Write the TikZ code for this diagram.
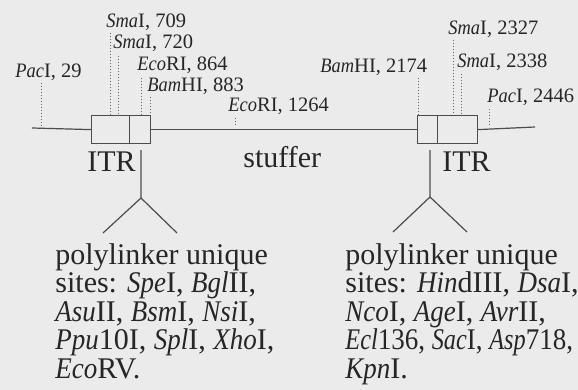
\documentclass[tikz,border=0pt]{standalone}
\usepackage{graphicx}
\usepackage{fontspec}
\setmainfont{Liberation Serif}[ItalicFeatures={FakeStretch=0.9}]
\begin{document}
\begin{tikzpicture}[x=0.5pt,y=-0.5pt,
  seg/.style={draw=black!70,line width=0.6pt},
  tick/.style={draw=black!60,line width=0.5pt,densely dotted},
  lbl/.style={anchor=base west,inner sep=0pt,font=\fontsize{10.25}{12}\selectfont,text=black!85},
  big/.style={anchor=base west,inner sep=0pt,font=\fontsize{15}{15}\selectfont,text=black!85},
  para/.style={anchor=north west,inner sep=0pt,align=left,font=\fontsize{15}{14.25}\selectfont,text=black!85}]
\fill[black!8] (0,0) rectangle (578,390);
\useasboundingbox (0,0) rectangle (578,390);
% backbone
\coordinate (L0) at (32,128);
\coordinate (R0) at (535,127);
\node[seg,minimum width=19pt,minimum height=14pt,inner sep=0pt,anchor=north west] (b1a) at (91,115) {};
\node[seg,minimum width=10.5pt,minimum height=14pt,inner sep=0pt,anchor=north west] (b1b) at (129,115) {};
\node[seg,minimum width=10pt,minimum height=14pt,inner sep=0pt,anchor=north west] (b2a) at (417,115) {};
\node[seg,minimum width=20pt,minimum height=14pt,inner sep=0pt,anchor=north west] (b2b) at (437,115) {};
\draw[seg] (L0) -- (b1a.west);
\draw[seg] (b1b.east) -- (b2a.west);
\draw[seg] (b2b.east) -- (R0);
% labels and ticks
\node[lbl] (pac1) at (15,78) {\textit{Pac}I, 29};
\draw[tick] (41,83) -- (41,130);
\node[lbl] (sma1) at (106,28) {\textit{Sma}I, 709};
\draw[tick] (110,33) -- (110,115);
\node[lbl] (sma2) at (113,49) {\textit{Sma}I, 720};
\draw[tick] (118,56) -- (118,115);
\node[lbl] (eco1) at (137,71) {\textit{Eco}RI, 864};
\draw[tick] (141,78) -- (141,115);
\node[lbl] (bam1) at (147,91) {\textit{Bam}HI, 883};
\draw[tick] (150,97) -- (150,115);
\node[lbl] (eco2) at (228,112) {\textit{Eco}RI, 1264};
\draw[tick] (235,118) -- (235,127);
\node[lbl] (bam2) at (320,73) {\textit{Bam}HI, 2174};
\draw[tick] (418,78) -- (418,115);
\node[lbl] (sma3) at (448,35) {\textit{Sma}I, 2327};
\draw[tick] (453,40) -- (453,115);
\node[lbl] (sma4) at (457,68) {\textit{Sma}I, 2338};
\draw[tick] (461,74) -- (461,115);
\node[lbl] (pac2) at (487,103) {\textit{Pac}I, 2446};
\draw[tick] (489,109) -- (489,127);
% big labels
\node[big] (itr1) at (87,171) {ITR};
\node[big] (stuf) at (243,167) {stuffer};
\node[big] (itr2) at (442,171) {ITR};
% forks
\coordinate (f1) at (141,198);
\coordinate (f2) at (430,197);
\draw[seg] (141,150) -- (f1) -- (103,233);
\draw[seg] (f1) -- (177,233);
\draw[seg] (430,150) -- (f2) -- (393,232);
\draw[seg] (f2) -- (467,232);
% paragraphs
\node[para] (p1) at (55,243) {polylinker unique\\sites: \textit{Spe}I, \textit{Bgl}II,\\\textit{Asu}II, \textit{Bsm}I, \textit{Nsi}I,\\\textit{Ppu}10I, \textit{Spl}I, \textit{Xho}I,\\\textit{Eco}RV.};
\node[para] (p2) at (345,243) {polylinker unique\\sites: \textit{Hin}dIII, \textit{Dsa}I,\\\textit{Nco}I, \textit{Age}I, \textit{Avr}II,\\\scalebox{0.9}[1]{\textit{Ecl}136, \textit{Sac}I, \textit{Asp}718,}\\\textit{Kpn}I.};
\end{tikzpicture}
\end{document}
